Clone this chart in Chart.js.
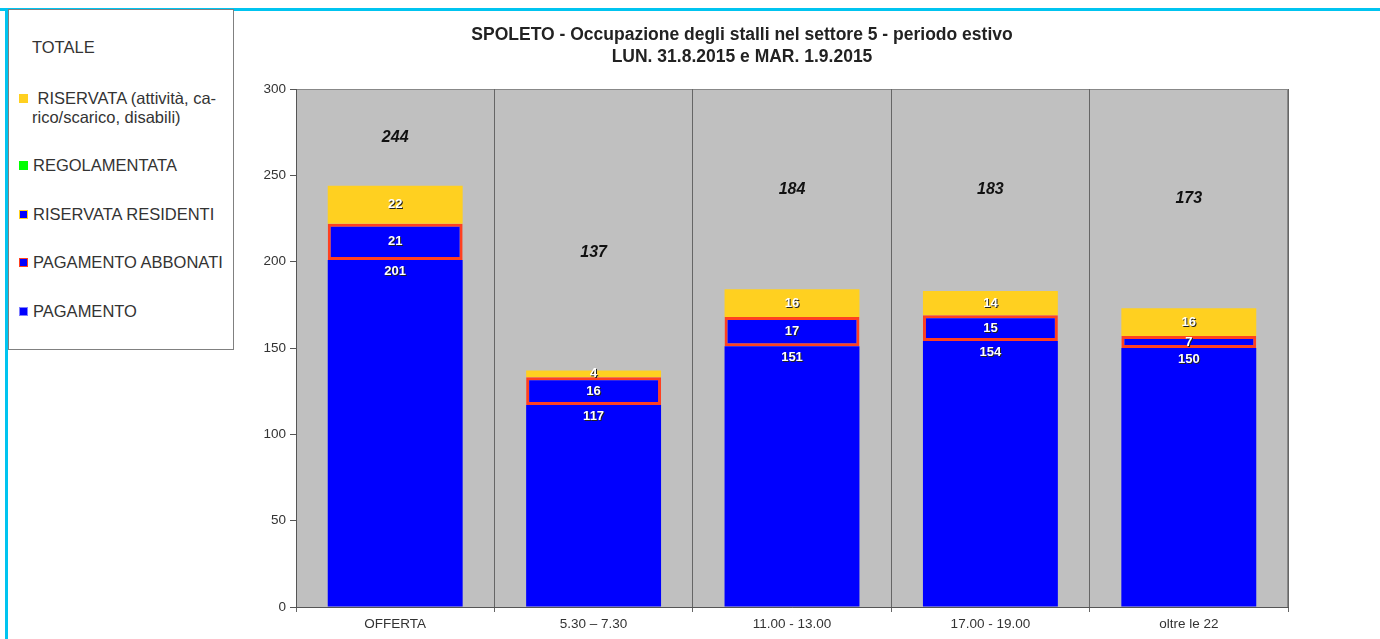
<!DOCTYPE html>
<html>
<head>
<meta charset="utf-8">
<script src="https://cdn.jsdelivr.net/npm/chart.js@4/dist/chart.umd.min.js"></script>
<style>
  body { margin: 0; background: #fff; font-family: "Liberation Sans", Arial, sans-serif; }
  #wrap { position: relative; width: 1380px; height: 639px; overflow: hidden; }
  #topline { position: absolute; left: 0; top: 8px; width: 1380px; height: 3px; background: #00c4f0; }
  #leftline { position: absolute; left: 5px; top: 8px; width: 3px; height: 640px; background: #00c4f0; }
  #legend { position: absolute; left: 8px; top: 9px; width: 224px; height: 339px; border: 1px solid #808080; background: #fff; color: #333; font-size: 16.5px; }
  .item { position: absolute; left: 10px; line-height: 19px; white-space: nowrap; }
  .sw { display: inline-block; width: 9px; height: 9px; margin-right: 5px; vertical-align: 1px; box-sizing: border-box; }
  canvas { position: absolute; left: 0; top: 0; }
</style>
</head>
<body>
<div id="wrap">
  <canvas id="c" width="1380" height="639"></canvas>
  <div id="topline"></div>
  <div id="leftline"></div>
  <div id="legend">
    <div class="item" style="top:28px;left:23px">TOTALE</div>
    <div class="item" style="top:79px"><span class="sw" style="background:#ffd020"></span>&nbsp;RISERVATA (attività, ca-<br><span style="padding-left:13px">rico/scarico, disabili)</span></div>
    <div class="item" style="top:146px"><span class="sw" style="background:#00ff00"></span>REGOLAMENTATA</div>
    <div class="item" style="top:195px"><span class="sw" style="background:#0000ff;border:1px solid #ffd020"></span>RISERVATA RESIDENTI</div>
    <div class="item" style="top:243px"><span class="sw" style="background:#0000ff;border:1px solid #ff4020"></span>PAGAMENTO ABBONATI</div>
    <div class="item" style="top:292px"><span class="sw" style="background:#0000ff;border:1px solid #8080ff"></span>PAGAMENTO</div>
  </div>
</div>
<script>
let categories = ["OFFERTA", "5.30 \u2013 7.30", "11.00 - 13.00", "17.00 - 19.00", "oltre le 22"];
let pagamento = [201, 117, 151, 154, 150];
let abbonati = [21, 16, 17, 15, 7];
let residenti = [0, 0, 0, 0, 0];
let regolamentata = [0, 0, 0, 0, 0];
let riservata = [22, 4, 16, 14, 16];
let totale = [244, 137, 184, 183, 173];
let yTicks = [0, 50, 100, 150, 200, 250, 300];

const titleLines = ["SPOLETO - Occupazione degli stalli nel settore 5 - periodo estivo", "LUN. 31.8.2015 e MAR. 1.9.2015"];
const FONT = '"Liberation Sans", Arial, sans-serif';

// grey plot background + frame + title
const plotBg = {
    id: 'plotBg',
    beforeDraw(chart) {
        let a = chart.chartArea, ctx = chart.ctx;
        ctx.save();
        ctx.fillStyle = '#c0c0c0';
        ctx.fillRect(a.left, a.top, a.right - a.left, a.bottom - a.top);
        ctx.strokeStyle = '#888';
        ctx.lineWidth = 1;
        ctx.strokeRect(a.left + 0.5, a.top + 0.5, a.right - a.left - 1, a.bottom - a.top);
        ctx.restore();
    },
    afterDraw(chart) {
        let ctx = chart.ctx;
        ctx.save();
        ctx.fillStyle = '#222';
        ctx.font = 'bold 17.5px ' + FONT;
        ctx.textAlign = 'center';
        ctx.textBaseline = 'middle';
        ctx.fillText(titleLines[0], 742, 35);
        ctx.fillText(titleLines[1], 742, 57);
        ctx.restore();
    }
};

// value labels
const valueLabels = {
    id: 'valueLabels',
    afterDatasetsDraw(chart) {
        let ctx = chart.ctx, a = chart.chartArea;
        ctx.save();
        ctx.textAlign = 'center';
        ctx.textBaseline = 'middle';
        chart.data.datasets.forEach((ds, di) => {
            let meta = chart.getDatasetMeta(di);
            meta.data.forEach((el, i) => {
                let v = ds.data[i];
                if (!v) return;
                let top = Math.max(el.y, a.top);
                let y = (top + el.base) / 2;
                if (ds.label === 'TOTALE') {
                    ctx.font = 'italic bold 16px ' + FONT;
                    ctx.fillStyle = '#111';
                    ctx.fillText(v, el.x, y);
                    return;
                }
                if (ds.label === 'PAGAMENTO') y = el.y + 11;
                ctx.font = 'bold 13px ' + FONT;
                ctx.fillStyle = '#222';
                ctx.fillText(v, el.x + 1, y + 1);
                ctx.fillStyle = '#fff';
                ctx.fillText(v, el.x, y);
            });
        });
        ctx.restore();
    }
};

new Chart(document.getElementById('c'), {
    type: 'bar',
    data: {
        labels: categories,
        datasets: [
            { label: 'PAGAMENTO', data: pagamento, backgroundColor: '#0000ff' },
            { label: 'PAGAMENTO ABBONATI', data: abbonati, backgroundColor: '#0000ff', borderColor: '#ff4020', borderWidth: 3, borderSkipped: false },
            { label: 'RISERVATA RESIDENTI', data: residenti, backgroundColor: '#0000ff' },
            { label: 'REGOLAMENTATA', data: regolamentata, backgroundColor: '#00ff00' },
            { label: 'RISERVATA', data: riservata, backgroundColor: '#ffd020' },
            { label: 'TOTALE', data: totale, backgroundColor: 'rgba(0,0,0,0)' }
        ]
    },
    options: {
        responsive: false,
        animation: false,
        events: [],
        layout: { padding: { left: 240, top: 89, right: 92, bottom: 0 } },
        datasets: { bar: { categoryPercentage: 1, barPercentage: 0.68 } },
        plugins: { legend: { display: false }, tooltip: { enabled: false }, title: { display: false } },
        scales: {
            x: {
                stacked: true,
                offset: true,
                grid: { offset: true, color: '#666', tickLength: 5, drawTicks: true },
                border: { color: '#555' },
                ticks: { color: '#333', font: { size: 13.5, family: FONT }, padding: 4 },
                afterFit(s) { s.height = 32; }
            },
            y: {
                stacked: true,
                min: 0,
                max: 300,
                afterBuildTicks(s) { s.ticks = yTicks.map(v => ({ value: v })); },
                grid: { drawOnChartArea: false, color: '#555', tickLength: 6 },
                border: { color: '#555' },
                ticks: { color: '#333', font: { size: 13.5, family: FONT }, padding: 4 },
                afterFit(s) { s.width = 56; }
            }
        }
    },
    plugins: [plotBg, valueLabels]
});
</script>
</body>
</html>
